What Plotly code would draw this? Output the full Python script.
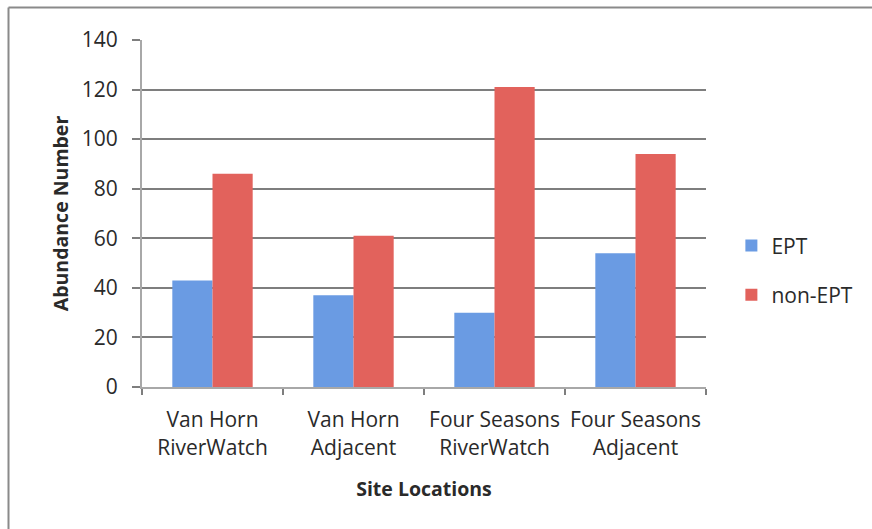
import plotly.graph_objects as go

categories = ["Van Horn<br>RiverWatch", "Van Horn<br>Adjacent",
              "Four Seasons<br>RiverWatch", "Four Seasons<br>Adjacent"]
ept = [43, 37, 30, 54]
non_ept = [86, 61, 121, 94]
y_ticks = [0, 20, 40, 60, 80, 100, 120, 140]

FONT = "Open Sans"
TXT = "#2a2a2a"
fig = go.Figure()
fig.add_trace(go.Bar(x=categories, y=ept, name="EPT",
                     marker=dict(color="#6A9BE3", line=dict(width=0)),
                     legendgroup="a"))
fig.add_trace(go.Bar(x=categories, y=non_ept, name="non-EPT",
                     marker=dict(color="#E2625C", line=dict(width=0)),
                     legendgroup="b"))

fig.update_layout(
    width=872, height=529,
    margin=dict(l=142, r=166, t=40, b=142),
    paper_bgcolor="white", plot_bgcolor="white",
    barmode="group", bargap=0.43, bargroupgap=0,
    font=dict(family=FONT, size=21, color=TXT),
    legend=dict(x=1.045, y=0.336, xanchor="left", yanchor="middle",
                font=dict(size=21, color=TXT), tracegroupgap=19,
                traceorder="grouped", itemwidth=30),
    showlegend=True,
)
fig.update_yaxes(range=[0, 140], tickvals=y_ticks, showgrid=True,
                 gridcolor="#7E7E7E", gridwidth=1.5,
                 showline=True, linecolor="#A8A8A8", linewidth=2,
                 ticks="outside", ticklen=8, tickcolor="#7E7E7E", tickwidth=1.5,
                 ticklabelstandoff=10, zeroline=False,
                 tickfont=dict(size=21, color=TXT),
                 title=dict(text="<b>Abundance Number</b>",
                            font=dict(size=19.5, color=TXT), standoff=8))
fig.update_xaxes(showline=True, linecolor="#A8A8A8", linewidth=2,
                 ticks="outside", tickson="boundaries", ticklen=6,
                 tickcolor="#7E7E7E", tickwidth=1.5, showgrid=False,
                 ticklabelstandoff=13,
                 tickfont=dict(size=21, color=TXT),
                 title=dict(text="<b>Site Locations</b>",
                            font=dict(size=19.5, color=TXT), standoff=23))

# outer chart frame (top and left edges visible)
fig.add_shape(type="line", xref="paper", yref="paper",
              x0=-0.2367, x1=1.3, y0=1.0937, y1=1.0937,
              line=dict(color="#8A8A8A", width=2))
fig.add_shape(type="line", xref="paper", yref="paper",
              x0=-0.2367, x1=-0.2367, y0=-0.45, y1=1.0937,
              line=dict(color="#8A8A8A", width=2))

fig.write_html("out.html")
